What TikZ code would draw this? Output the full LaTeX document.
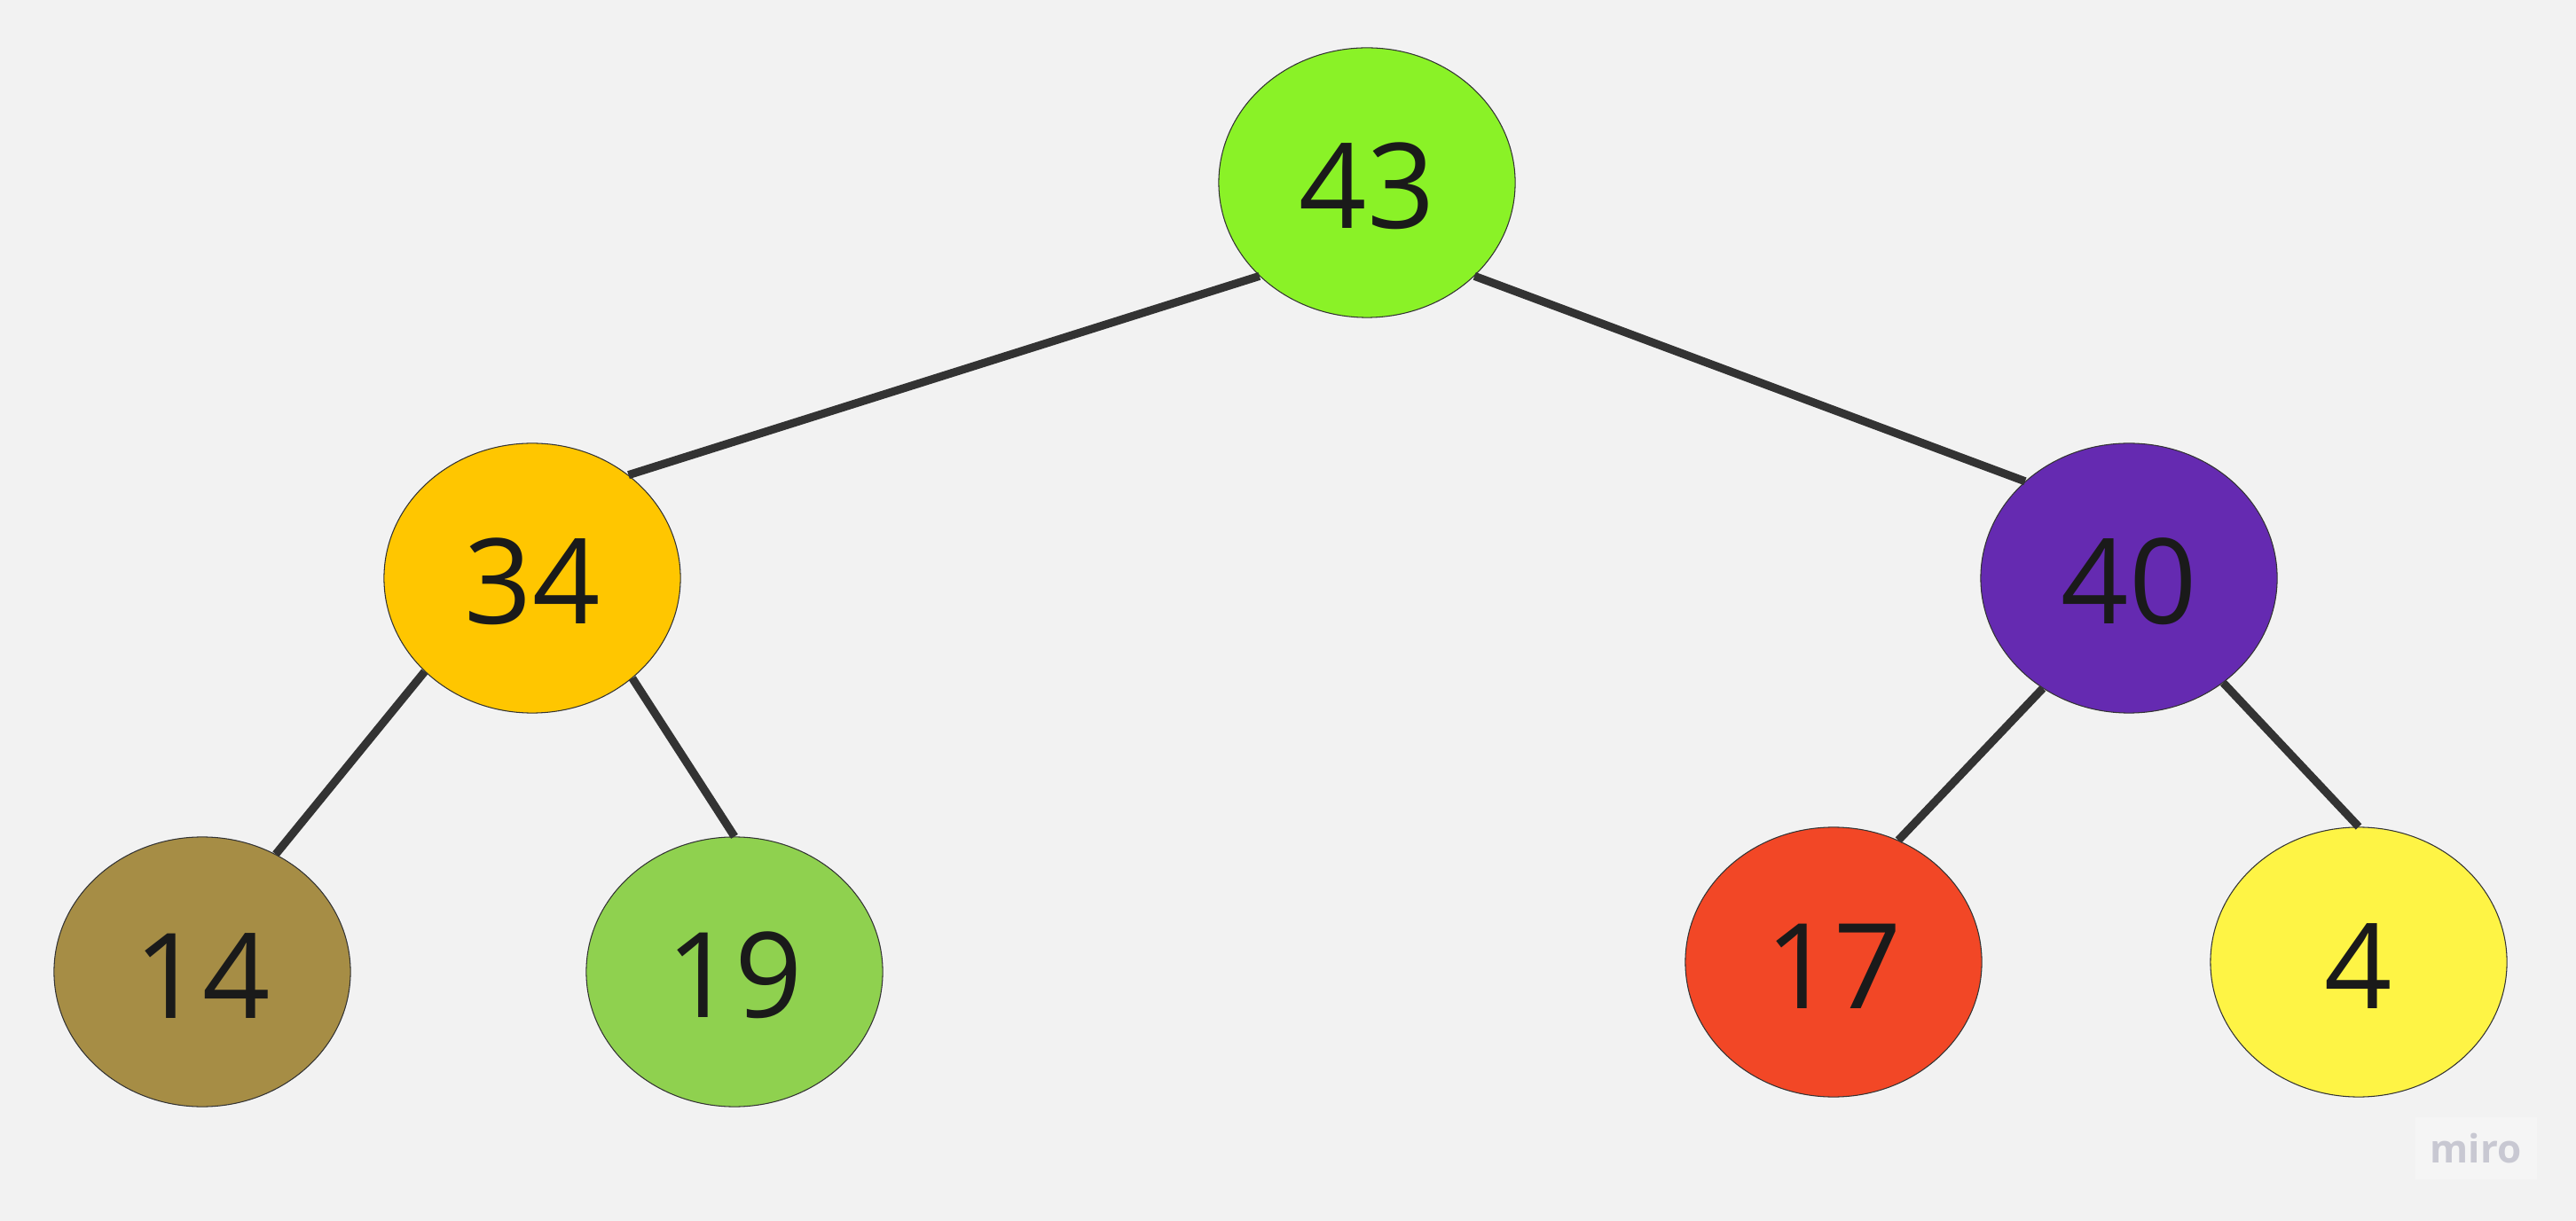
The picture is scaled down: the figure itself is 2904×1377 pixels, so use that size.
\documentclass[tikz,border=0pt]{standalone}
\usepackage{fontspec}
\setmainfont{Open Sans}
\usetikzlibrary{shapes.geometric}
\definecolor{bg}{HTML}{F2F2F2}
\definecolor{edgec}{HTML}{333333}
\definecolor{txt}{HTML}{1A1A1A}
\definecolor{cA}{HTML}{8AF227}
\definecolor{cB}{HTML}{FFC600}
\definecolor{cC}{HTML}{652AB1}
\definecolor{cD}{HTML}{A68D45}
\definecolor{cE}{HTML}{8FD14F}
\definecolor{cF}{HTML}{F24726}
\definecolor{cG}{HTML}{FEF445}
\definecolor{logoc}{HTML}{C8C8D2}
\definecolor{logobg}{HTML}{F5F5F5}
\tikzset{
  treenode/.style={ellipse, draw=black!80, line width=0.3pt, minimum width=3.34cm, minimum height=3.04cm, inner sep=0pt, text height=1.05cm, text=txt, font=\fontsize{38}{40}\selectfont},
  treeedge/.style={draw=edgec, line width=2.6pt},
}
\begin{document}
\begin{tikzpicture}[x=0.01cm,y=-0.01cm]
\fill[bg] (0,0) rectangle (2904,1377);
\useasboundingbox (0,0) rectangle (2904,1377);
\node[treenode, fill=cA] (n43) at (1541,206) {43};
\node[treenode, fill=cB] (n34) at (600,652) {34};
\node[treenode, fill=cC] (n40) at (2400,652) {40};
\node[treenode, fill=cD] (n14) at (228,1096) {14};
\node[treenode, fill=cE] (n19) at (828,1096) {19};
\node[treenode, fill=cF] (n17) at (2067,1085) {17};
\node[treenode, fill=cG] (n4) at (2659,1085) {4};
\draw[treeedge] (n43.221.2) -- (n34.47.3);
\draw[treeedge] (n43.319.7) -- (n40.137.2);
\draw[treeedge] (n34.221.2) -- (n14.58.9);
\draw[treeedge] (n34.315) -- (n19.90);
\draw[treeedge] (n40.232.1) -- (n17.62.5);
\draw[treeedge] (n40.312.3) -- (n4.90);
\node[fill=logobg, minimum width=1.37cm, minimum height=0.70cm, inner sep=0pt, text=logoc, font=\bfseries\fontsize{12.5}{13}\selectfont] (logo) at (2791,1295) {miro};
\end{tikzpicture}
\end{document}
